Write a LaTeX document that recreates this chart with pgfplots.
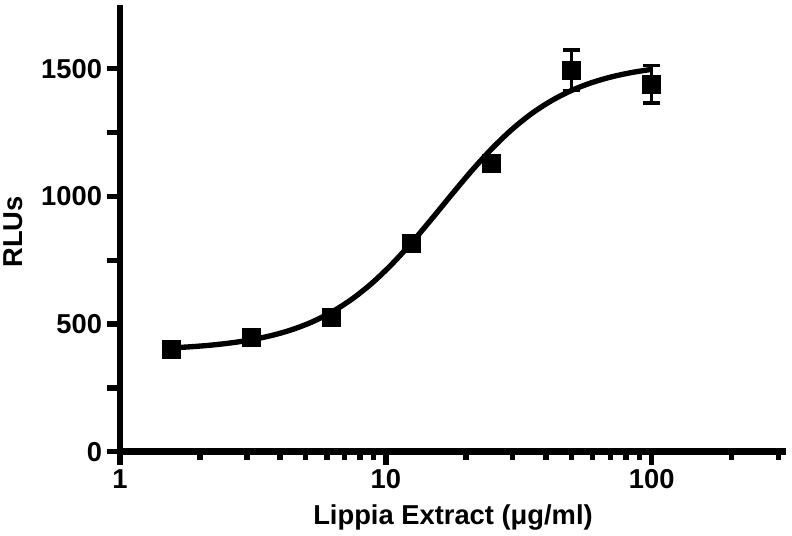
\documentclass[border=0pt]{standalone}
\usepackage{fontspec}
\setmainfont{Liberation Sans}
\usepackage{pgfplots}
\pgfplotsset{compat=1.18}

% measured points: concentration, mean RLU, error
\pgfplotstableread{
x       y     err
1.5625  402   12
3.125   447   12
6.25    525   15
12.5    816   20
25      1128  25
50      1494  80
100     1440  74
}\datatable

% fitted sigmoid
\pgfplotstableread{
x       y
1.5625  406.6
1.8581  411.2
2.2097  417.6
2.6278  426.4
3.125   438.5
3.7163  455.1
4.4194  477.5
5.2556  507.4
6.25    546.5
7.4325  596.7
8.8388  658.9
10.511  733.5
12.5    818.7
14.865  911.5
17.678  1007.2
21.022  1100.4
25      1186.3
29.730  1261.6
35.355  1324.7
42.045  1375.5
50      1415.4
59.460  1445.8
70.711  1468.6
84.090  1485.5
100     1498.0
}\fittable

\begin{document}
\begin{tikzpicture}
\begin{axis}[
    scale only axis,
    width=499.5pt, height=335pt,
    xmode=log,
    xmin=1, xmax=320,
    ymin=0, ymax=1750,
    axis x line=bottom, axis y line=left,
    axis line style={-, line width=5pt},
    tick align=outside,
    xtick={1,10,100}, xticklabels={1,10,100},
    minor xtick={2,3,4,5,6,7,8,9,20,30,40,50,60,70,80,90,200,300},
    ytick={0,500,1000,1500},
    extra y ticks={250,750,1250}, extra y tick labels={},
    major tick length=10pt,
    minor tick length=6.5pt,
    every tick/.style={black, line width=4pt},
    /pgf/number format/assume math mode=true,
    ticklabel style={font=\fontsize{20.5}{24}\selectfont\bfseries},
    yticklabel style={/pgf/number format/fixed, /pgf/number format/1000 sep={}},
    label style={font=\fontsize{20.5}{24}\selectfont\bfseries},
    xlabel={Lippia Extract (μg/ml)},
    ylabel={RLUs},
    xlabel style={at={(axis description cs:0.5,0)}, anchor=center, yshift=-49pt},
    ylabel style={at={(axis description cs:-0.160,0.492)}, anchor=center},
    clip=false,
]
\addplot[black, line width=2.6pt, only marks, mark=none,
    error bars/.cd, y dir=both, y explicit,
    error bar style={line width=2.6pt},
    error mark options={rotate=90, mark size=6.4pt, line width=2.6pt}]
    table[x=x, y=y, y error=err] {\datatable};
\addplot[black, only marks, mark=square*, mark size=6.75pt] table[x=x, y=y] {\datatable};
\addplot[black, line width=4pt, smooth, no marks] table[x=x, y=y] {\fittable};
\coordinate (o) at (rel axis cs:0,0);
\coordinate (tr) at (rel axis cs:1,1);
\end{axis}
\pgfresetboundingbox
\path ([xshift=-90pt,yshift=-63pt]o) rectangle ([xshift=4.5pt,yshift=3.75pt]tr);
\end{tikzpicture}
\end{document}
